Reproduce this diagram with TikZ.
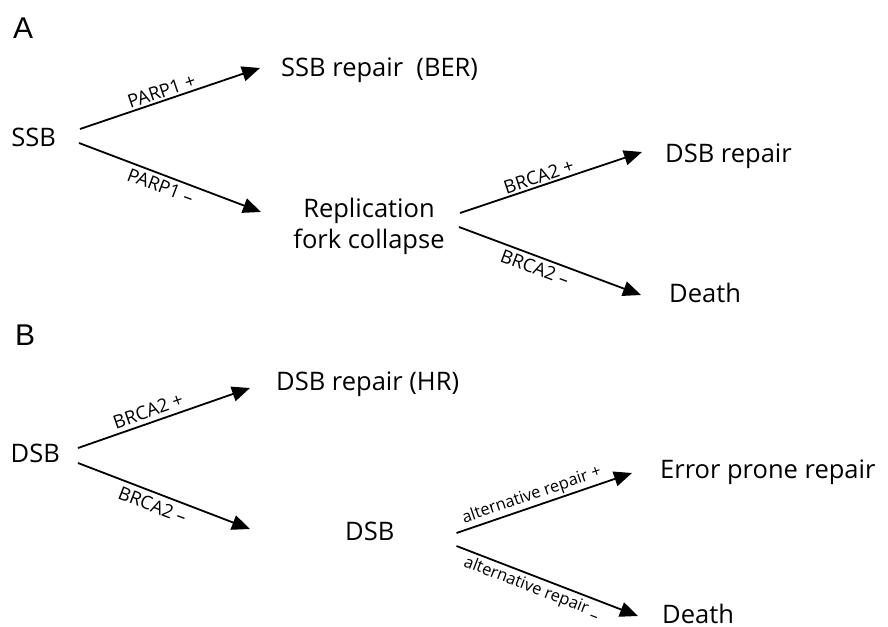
\documentclass[tikz,border=0pt]{standalone}
\usepackage{fontspec}
\setmainfont{Open Sans}
\newfontfamily\panelfont{Liberation Sans}
\usetikzlibrary{arrows.meta}
\tikzset{
  txt/.style={font=\fontsize{25.5}{31}\selectfont, inner sep=0pt},
  panel/.style={font=\panelfont\fontsize{30}{32}\selectfont, inner sep=0pt, anchor=base west},
  lbl/.style={font=\fontsize{18.5}{20}\selectfont, sloped, inner sep=2pt},
  albl/.style={font=\fontsize{16.5}{20}\selectfont, sloped, inner sep=2pt},
  arr/.style={line width=1.8pt, -{Triangle[length=18pt,width=15pt]}}
}
\begin{document}
\begin{tikzpicture}[x=1pt,y=-1pt]
\useasboundingbox (0,0) rectangle (888,626);
% Panel A
\node[panel] (labA) at (13,38) {A};
\node[txt, anchor=base east] (ssb) at (56,146) {SSB};
\node[txt, anchor=base west] (ber) at (281,77) {SSB repair\ \ (BER)};
\node[txt, align=center] (rfc) at (369,226) {Replication\\fork collapse};
\node[txt, anchor=base west] (dsbr) at (665,162) {DSB repair};
\node[txt, anchor=base west] (deathA) at (669,302) {Death};
\draw[arr] ([shift={(24,-17)}]ssb.base east) -- node[lbl, above, pos=0.47] {PARP1 +} ([shift={(-21,-9)}]ber.base west);
\draw[arr] ([shift={(23,-3)}]ssb.base east) -- node[lbl, below=2pt, pos=0.47] {PARP1 –} ([shift={(-108,-14)}]rfc.center);
\draw[arr] ([shift={(91,-13)}]rfc.center) -- node[lbl, above, pos=0.45] {BRCA2 +} ([shift={(-23,-10)}]dsbr.base west);
\draw[arr] ([shift={(90,1)}]rfc.center) -- node[lbl, below=2pt, pos=0.44] {BRCA2 –} ([shift={(-28,-7)}]deathA.base west);
% Panel B
\node[panel] (labB) at (15,345) {B};
\node[txt, anchor=base east] (dsb) at (60,462) {DSB};
\node[txt, anchor=base west] (hr) at (276,390) {DSB repair (HR)};
\node[txt, anchor=base west] (dsbB) at (345,540) {DSB};
\node[txt, anchor=base west] (epr) at (660,478) {Error prone repair};
\node[txt, anchor=base west] (deathB) at (662,623) {Death};
\draw[arr] ([shift={(18,-14)}]dsb.base east) -- node[lbl, above=2pt, pos=0.43] {BRCA2 +} ([shift={(-26,-2)}]hr.base west);
\draw[arr] ([shift={(18,1)}]dsb.base east) -- node[lbl, below=3pt, pos=0.46] {BRCA2 –} ([shift={(-95,-11)}]dsbB.base west);
\draw[arr] ([shift={(62,-7)}]dsbB.base east) -- node[albl, above, pos=0.45] {alternative repair +} ([shift={(-28,-5)}]epr.base west);
\draw[arr] ([shift={(62,6)}]dsbB.base east) -- node[albl, below=1pt, pos=0.44] {alternative repair \raisebox{-5pt}{–}} ([shift={(-24,-7)}]deathB.base west);
\end{tikzpicture}
\end{document}
